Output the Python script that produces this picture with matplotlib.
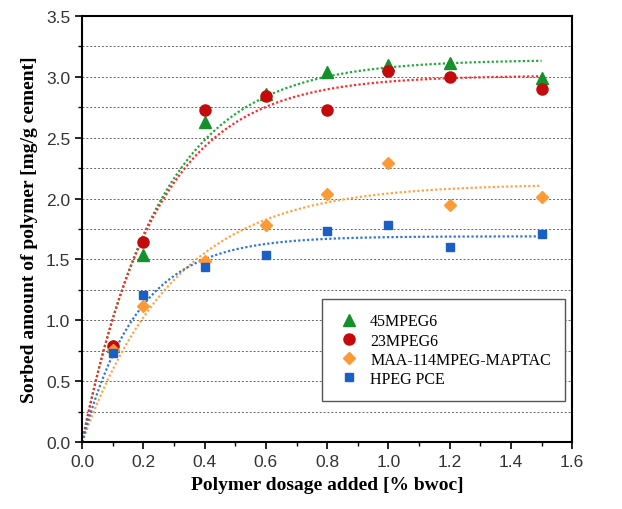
import numpy as np
import matplotlib.pyplot as plt

# polymer dosage [% bwoc]
dosage = [0.1, 0.2, 0.4, 0.6, 0.8, 1.0, 1.2, 1.5]

# sorbed amount [mg/g cement]
mpeg45 = [0.79, 1.54, 2.63, 2.86, 3.04, 3.10, 3.11, 2.99]
mpeg23 = [0.79, 1.64, 2.73, 2.84, 2.73, 3.05, 3.00, 2.90]
maa = [0.76, 1.12, 1.49, 1.78, 2.04, 2.29, 1.95, 2.01]
hpeg = [0.73, 1.21, 1.44, 1.54, 1.73, 1.78, 1.60, 1.71]

labels = ["45MPEG6", "23MPEG6", "MAA-114MPEG-MAPTAC", "HPEG PCE"]

# saturation fit parameters (plateau, rate)
fit_params = [(3.14, 3.9), (3.01, 4.1), (2.12, 3.3), (1.69, 5.5)]

series = [mpeg45, mpeg23, maa, hpeg]
markers = ["^", "o", "D", "s"]
msizes = [8, 8, 6.5, 6]
mcolors = ["#15912c", "#c40a0a", "#ff9933", "#1a5fc4"]
lcolors = ["#22a83a", "#ff2a2a", "#ffa347", "#2f76d6"]

fig = plt.figure(figsize=(6.22, 5.10), dpi=100)
ax = fig.add_axes([0.132, 0.131, 0.788, 0.836])

ax.set_xlim(0, 1.6)
ax.set_ylim(0, 3.5)

# grid every 0.25
for g in np.arange(0.25, 3.5, 0.25):
    ax.axhline(g, color="#666666", ls=(0, (2, 2)), lw=0.7, zorder=0)

xs = np.linspace(0, 1.5, 200)
for (A, k), lc in zip(fit_params, lcolors):
    ax.plot(xs, A * (1 - np.exp(-k * xs)), ls=(0, (1, 1)), color=lc, lw=1.6, zorder=2)

handles = []
for y, m, ms, c, lab in zip(series, markers, msizes, mcolors, labels):
    h, = ax.plot(dosage, y, ls="none", marker=m, ms=ms, color=c, label=lab, zorder=3)
    handles.append(h)

ax.set_xticks(np.arange(0, 1.61, 0.2))
ax.set_xticks(np.arange(0.1, 1.6, 0.2), minor=True)
ax.set_yticks(np.arange(0, 3.51, 0.5))
ax.set_yticks(np.arange(0.25, 3.5, 0.5), minor=True)
ax.set_xticklabels(["%.1f" % v for v in np.arange(0, 1.61, 0.2)])
ax.set_yticklabels(["%.1f" % v for v in np.arange(0, 3.51, 0.5)])
ax.tick_params(which="major", direction="out", length=5, width=1.2, labelsize=12.5)
ax.tick_params(which="minor", direction="out", length=3, width=1)
for lab in ax.get_xticklabels() + ax.get_yticklabels():
    lab.set_family("Liberation Sans")
    lab.set_color("#333333")
for s in ax.spines.values():
    s.set_linewidth(1.5)

ax.set_xlabel("Polymer dosage added [% bwoc]", family="Liberation Serif",
              fontweight="bold", fontsize=14, labelpad=5)
ax.set_ylabel("Sorbed amount of polymer [mg/g cement]", family="Liberation Serif",
              fontweight="bold", fontsize=14, labelpad=6)

leg = ax.legend(handles=handles, loc="upper left", bbox_to_anchor=(0.49, 0.336),
                fancybox=False, edgecolor="#555555", framealpha=1,
                prop={"family": "Liberation Serif", "size": 11.5}, handletextpad=0.5,
                handlelength=1.6, labelspacing=0.2, borderpad=0.9, borderaxespad=0)
leg.get_frame().set_linewidth(1.0)

fig.savefig("out.png", dpi=100)
